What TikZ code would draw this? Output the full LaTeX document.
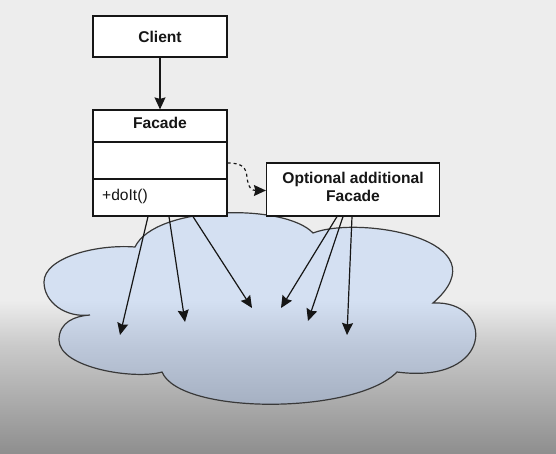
\documentclass[tikz,border=0pt]{standalone}
\usepackage{fontspec}
\setmainfont{Liberation Sans}
\usetikzlibrary{arrows.meta,calc}
\definecolor{bgtop}{HTML}{EDEDED}
\definecolor{bgmid}{HTML}{CACACA}
\definecolor{bgbot}{HTML}{8E8E8E}
\definecolor{cltop}{HTML}{D4E0F2}
\definecolor{clmid}{HTML}{BDC8DA}
\definecolor{clbot}{HTML}{A3AEC0}
\definecolor{ink}{HTML}{161616}
\begin{document}
\begin{tikzpicture}[x=1pt,y=-1pt,
  box/.style={draw=ink,line width=1.2pt,fill=white,rectangle,inner sep=0pt},
  lbl/.style={font=\fontsize{15.6}{18}\selectfont\bfseries,inner sep=0pt,text=ink},
  plain/.style={font=\fontsize{15.6}{18}\selectfont,inner sep=0pt,text=ink},
  conn/.style={draw=ink,line width=1.2pt,-{Stealth[length=12pt,width=11pt,inset=1.5pt]}},
  dashconn/.style={conn,dash pattern=on 3pt off 3pt},
  cloudline/.style={draw=ink!85,line width=1.2pt},
]
\useasboundingbox (0,0) rectangle (556,454);
% background
\fill[bgtop] (0,0) rectangle (556,300);
\shade[top color=bgtop,bottom color=bgmid] (0,300) rectangle (556,345);
\shade[top color=bgmid,bottom color=bgbot] (0,345) rectangle (556,454);
% cloud
\begin{scope}
\clip (135,247) .. controls (155,205) and (285,203) .. (313,233)
  .. controls (360,215) and (505,240) .. (433,303)
  .. controls (495,300) and (495,385) .. (397,372)
  .. controls (355,415) and (180,415) .. (162,372)
  .. controls (135,380) and (59,368) .. (59,340)
  .. controls (59,322) and (75,316) .. (90,315)
  .. controls (65,318) and (44,302) .. (44,282)
  .. controls (44,258) and (95,244) .. (135,247) -- cycle;
\fill[cltop] (0,200) rectangle (556,300);
\shade[top color=cltop,bottom color=clmid] (0,300) rectangle (556,345);
\shade[top color=clmid,bottom color=clbot] (0,345) rectangle (556,410);
\end{scope}
\path[cloudline] (135,247) .. controls (155,205) and (285,203) .. (313,233)
  .. controls (360,215) and (505,240) .. (433,303)
  .. controls (495,300) and (495,385) .. (397,372)
  .. controls (355,415) and (180,415) .. (162,372)
  .. controls (135,380) and (59,368) .. (59,340)
  .. controls (59,322) and (75,316) .. (90,315)
  .. controls (65,318) and (44,302) .. (44,282)
  .. controls (44,258) and (95,244) .. (135,247) -- cycle;
% boxes
\node[box,lbl,minimum width=134pt,minimum height=41pt] (client) at (160,36.5) {Client};
\node[box,minimum width=134pt,minimum height=106pt] (facade) at (160,163) {};
\draw[ink,line width=1.2pt] (facade.west |- 0,142) -- (facade.east |- 0,142);
\draw[ink,line width=1.2pt] (facade.west |- 0,179) -- (facade.east |- 0,179);
\node[lbl] (ftitle) at (160,122.5) {Facade};
\node[plain,anchor=west] (method) at (102,196) {+doIt()};
\node[box,minimum width=173pt,minimum height=53pt] (opt) at (353,189.5) {};
\node[lbl,align=center] (opttext) at (353,187) {Optional additional\\Facade};
% target points inside the cloud
\coordinate (t1) at (120,335);
\coordinate (t2) at (185,322);
\coordinate (t3) at (252,308);
\coordinate (t4) at (281,308);
\coordinate (t5) at (308,321);
\coordinate (t6) at (347,335);
% connectors
\draw[conn] (client.south) -- (facade.north);
\draw[dashconn] (facade.east |- 0,163) .. controls (243,163) and (246,168) .. (247,177)
  .. controls (248,188) and (252,190.5) .. (opt.west |- 0,190.5);
\draw[conn] (148,0 |- facade.south) -- (t1);
\draw[conn] (169,0 |- facade.south) -- (t2);
\draw[conn] (193,0 |- facade.south) -- (t3);
\draw[conn] (337,0 |- opt.south) -- (t4);
\draw[conn] (343,0 |- opt.south) -- (t5);
\draw[conn] (352,0 |- opt.south) -- (t6);
\end{tikzpicture}
\end{document}
